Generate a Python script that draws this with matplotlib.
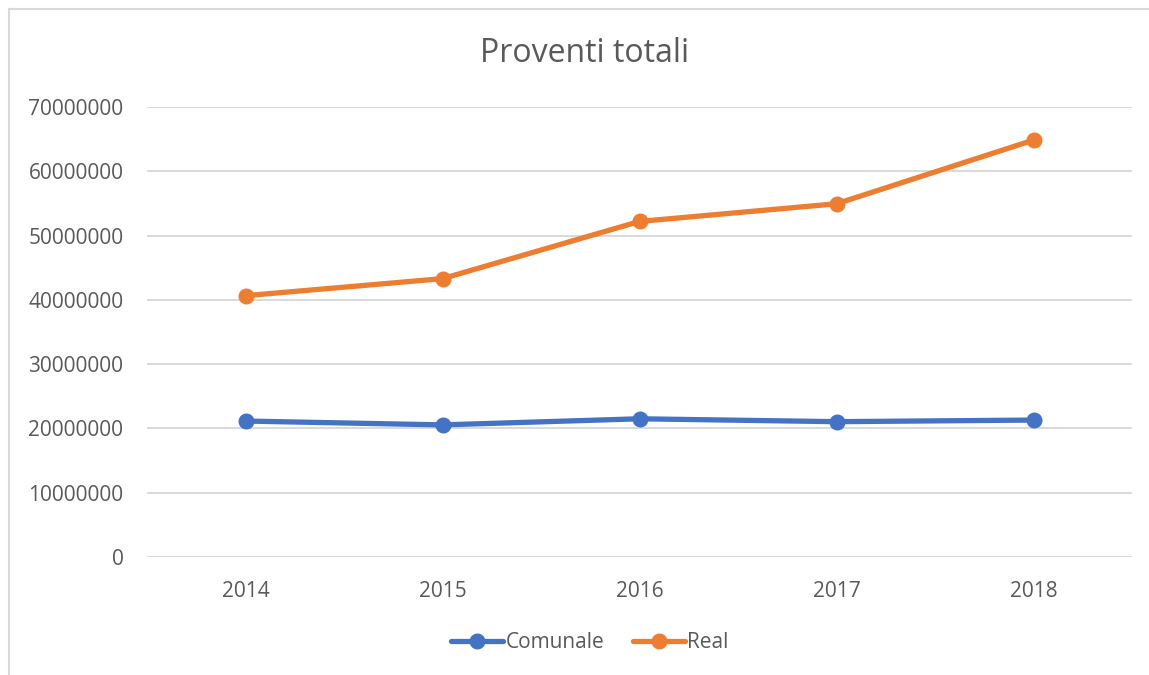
import matplotlib.pyplot as plt
from matplotlib.lines import Line2D

plt.rcParams['font.family'] = ['Open Sans', 'DejaVu Sans']

years = ['2014', '2015', '2016', '2017', '2018']
comunale = [21150000, 20550000, 21500000, 21050000, 21300000]
real = [40650000, 43300000, 52200000, 54950000, 64850000]
yticks = [0, 10000000, 20000000, 30000000, 40000000, 50000000, 60000000, 70000000]

text_color = '#595959'
grid_color = '#D9D9D9'

fig = plt.figure(figsize=(11.49, 6.75), dpi=100)
ax = fig.add_axes([147 / 1149, 1 - 557 / 675, (1132 - 147) / 1149, (557 - 107) / 675])

x = range(len(years))
ax.plot(x, comunale, color='#4472C4', lw=3.8, marker='o', ms=10.5,
        solid_capstyle='round', label='Comunale')
ax.plot(x, real, color='#ED7D31', lw=3.8, marker='o', ms=10.5,
        solid_capstyle='round', label='Real')

ax.set_xlim(-0.5, len(years) - 0.5)
ax.set_ylim(0, 70000000)
ax.set_xticks(list(x))
ax.set_xticklabels(years)
ax.set_yticks(yticks)
ax.set_yticklabels([str(v) for v in yticks])
ax.tick_params(length=0, labelsize=15, labelcolor=text_color)
ax.tick_params(axis='x', pad=17)
ax.tick_params(axis='y', pad=17)
ax.grid(axis='y', color=grid_color, lw=1.4)
ax.set_axisbelow(True)
for s in ax.spines.values():
    s.set_visible(False)

fig.text(585 / 1149, 1 - 53 / 675, 'Proventi totali', ha='center', va='center',
         fontsize=23, color=text_color)

leg = fig.legend(loc='center', bbox_to_anchor=(590 / 1149, 1 - 643 / 675), ncol=2,
                 frameon=False, fontsize=15, handlelength=2.5, handletextpad=0.1,
                 columnspacing=1.4, labelcolor=text_color)

# chart border, only top and left visible
fig.add_artist(Line2D([9 / 1149, 9 / 1149], [0, 1 - 9 / 675], transform=fig.transFigure,
                      color=grid_color, lw=1.5))
fig.add_artist(Line2D([9 / 1149, 1], [1 - 9 / 675, 1 - 9 / 675], transform=fig.transFigure,
                      color=grid_color, lw=1.5))

fig.savefig('out.png', dpi=100)
